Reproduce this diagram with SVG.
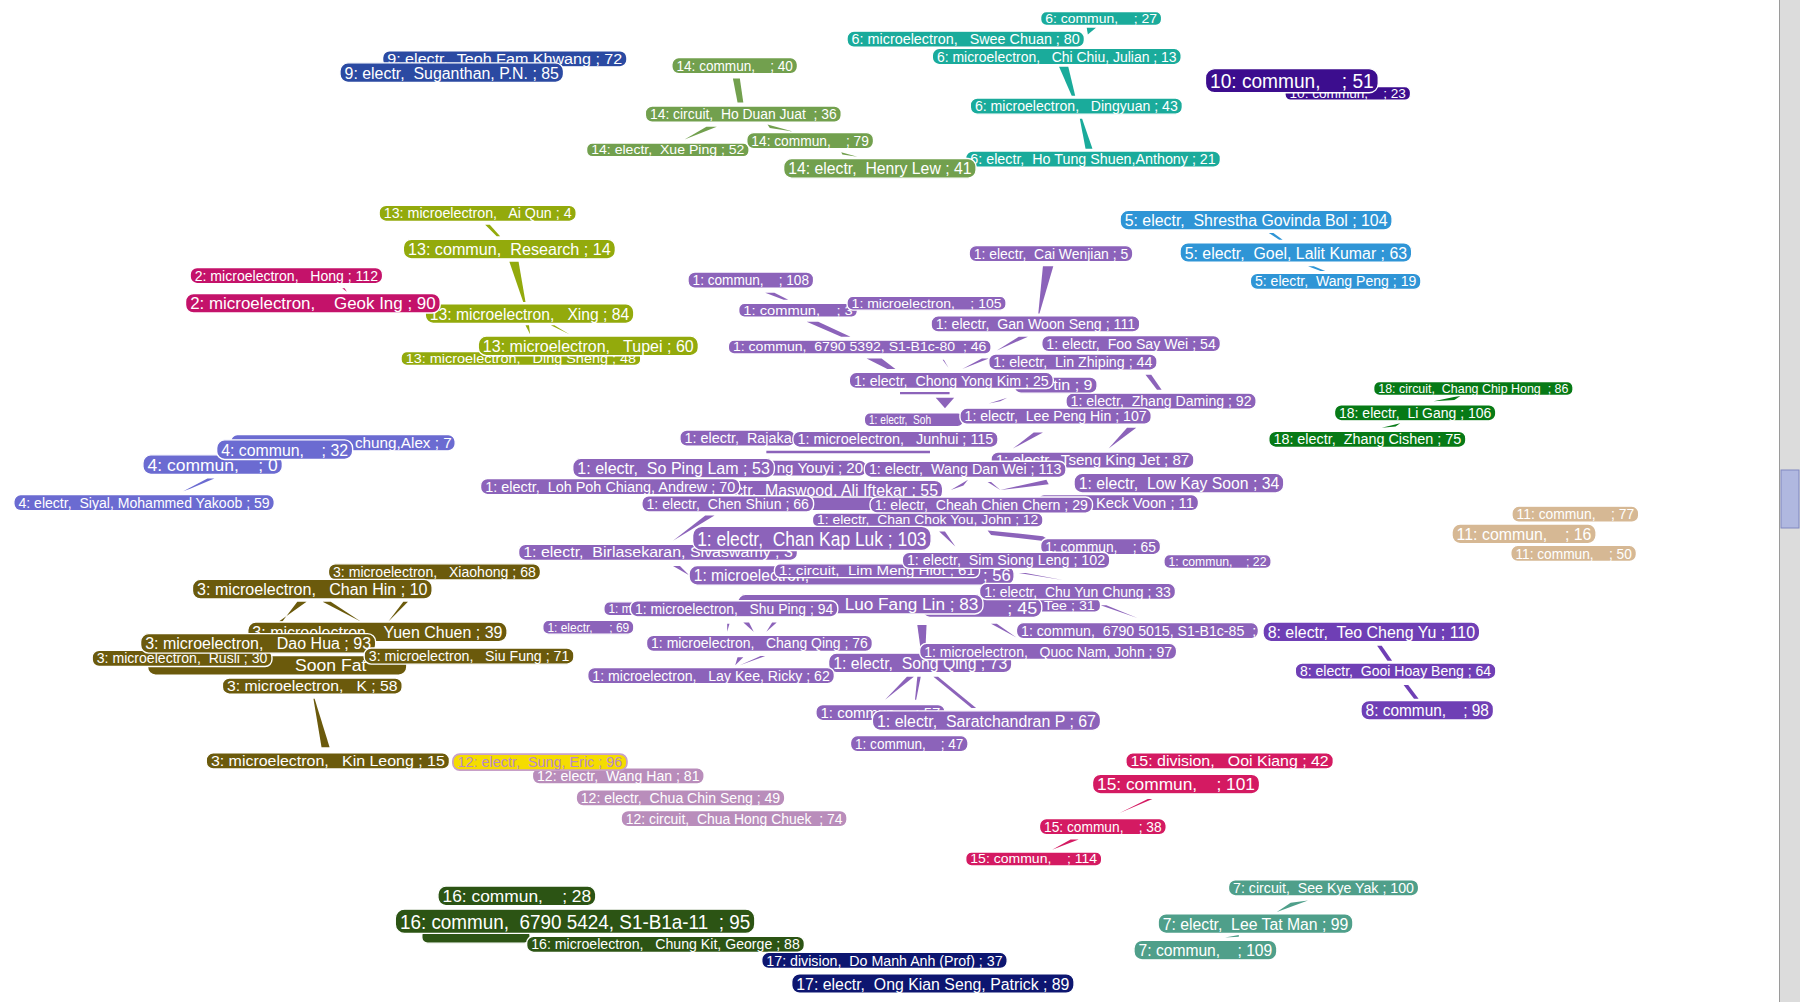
<svg xmlns="http://www.w3.org/2000/svg" width="1807" height="1002" viewBox="0 0 1807 1002">
<style>
text{font-family:"Liberation Sans",Arial,sans-serif;fill:#fff;white-space:pre}
.nd rect{stroke:#fff;stroke-width:1.2}
.s rect{rx:5px}.m rect{rx:6px}.l rect{rx:7px}.xl rect{rx:8px}
.s text{font-size:11px}.m text{font-size:12.6px}.l text{font-size:14.8px}.xl text{font-size:17.6px}
.c1 rect{fill:#8c63ba}.c1p{fill:#8c63ba}
.c2 rect{fill:#c4126a}.c2p{fill:#c4126a}
.c3 rect{fill:#6b5a0c}.c3p{fill:#6b5a0c}
.c4 rect{fill:#6b6bd1}.c4p{fill:#6b6bd1}
.c5 rect{fill:#2f95d6}.c5p{fill:#2f95d6}
.c6 rect{fill:#1aab9b}.c6p{fill:#1aab9b}
.c7 rect{fill:#4f9f8a}.c7p{fill:#4f9f8a}
.c8 rect{fill:#6f3fb5}.c8p{fill:#6f3fb5}
.c9 rect{fill:#2b4aa2}
.c10 rect{fill:#3c0d8e}
.c11 rect{fill:#d6b894}
.c12 rect{fill:#b98dbb}
.c13 rect{fill:#93aa0c}.c13p{fill:#93aa0c}
.c14 rect{fill:#72a04e}.c14p{fill:#72a04e}
.c15 rect{fill:#d41a62}.c15p{fill:#d41a62}
.c16 rect{fill:#2c5414}
.c17 rect{fill:#0d1670}
.c18 rect{fill:#077a16}.c18p{fill:#077a16}
.hl rect{fill:#f5dc00;stroke:#c8a0c8;stroke-width:1.5}.hl text{fill:#b98ac8}
</style>
<rect width="1807" height="1002" fill="#fff"/>
<g id="scrollbar">
<rect x="1779" y="0" width="21" height="1002" fill="#dcdcdc"/>
<line x1="1779.5" y1="0" x2="1779.5" y2="1002" stroke="#9a9a9a"/>
<rect x="1781" y="470" width="18" height="58" fill="#b0b8e0" stroke="#8088c0"/>
</g>
<g transform="scale(1.1524,1.153)">
<g id="connectors">
<polygon class="c6p" points="943,24 951,24 944,30"/>
<polygon class="c6p" points="919,58 927,58 933,83 930,83"/>
<polygon class="c6p" points="937,103 939,103 948,129 942,129"/>
<polygon class="c14p" points="636,68 642,68 645,89 640,89"/>
<polygon class="c14p" points="613,110 622,110 594,121"/>
<polygon class="c14p" points="666,108 668,111 688,114"/>
<polygon class="c14p" points="730,132 731,134 744,136"/>
<polygon class="c13p" points="421,195 425,195 434,205 431,205"/>
<polygon class="c13p" points="442,227 450,227 456,262 454,262"/>
<polygon class="c13p" points="456,282 459,282 460,290"/>
<polygon class="c13p" points="478,282 481,282 494,290"/>
<polygon class="c2p" points="297,250 299,250 301,253"/>
<polygon class="c5p" points="1101,202 1105,202 1113,208 1110,208"/>
<polygon class="c5p" points="1135,231 1140,231 1150,235 1146,235"/>
<polygon class="c18p" points="1244,348 1268,343 1262,347"/>
<polygon class="c18p" points="1199,371 1215,367 1211,370"/>
<polygon class="c4p" points="186,415 180,415 159,426 165,424"/>
<polygon class="c3p" points="258,522 266,522 242,539 245,539"/>
<polygon class="c3p" points="280,522 287,522 313,539"/>
<polygon class="c3p" points="350,522 354,522 337,539"/>
<polygon class="c3p" points="272,606 273,606 286,648 279,648"/>
<polygon class="c15p" points="996,693 1000,693 967,707 972,705"/>
<polygon class="c15p" points="929,728 936,728 913,737"/>
<polygon class="c7p" points="1135,781 1120,783 1108,791"/>
<polygon class="c7p" points="1063,813 1075,811 1075,812.5"/>
<polygon class="c8p" points="1195,560 1199,560 1208,573 1204,573"/>
<polygon class="c8p" points="1218,594 1222,594 1231,606 1227,606"/>
<polygon class="c1p" points="905,231 914,231 902,272 901,272"/>
<polygon class="c1p" points="664,254 672,254 684,260 680,260"/>
<polygon class="c1p" points="700,279 710,279 738,292 730,292"/>
<polygon class="c1p" points="752,311 765,311 777,320 770,320"/>
<polygon class="c1p" points="818,312 819,312 823,319"/>
<polygon class="c1p" points="884,292 892,292 865,304"/>
<polygon class="c1p" points="852,311 858,311 835,320"/>
<polygon class="c1p" points="994,325 999,325 1008,338 1004,338"/>
<polygon class="c1p" points="812,345 828,345 820,354"/>
<polygon class="c1p" points="858,350 874,345 868,348"/>
<polygon class="c1p" points="781,340 824,340 824,342 781,342"/>
<polygon class="c1p" points="978,371 986,371 962,389"/>
<polygon class="c1p" points="897,375 905,375 879,389"/>
<polygon class="c1p" points="665,391 807,391 807,393 665,393"/>
<polygon class="c1p" points="908,416 910,420 868,425"/>
<polygon class="c1p" points="857,418 860,418 868,425"/>
<polygon class="c1p" points="825,425 840,416 836,421"/>
<polygon class="c1p" points="612,447 620,447 584,469"/>
<polygon class="c1p" points="584,491 590,491 598,499"/>
<polygon class="c1p" points="857,460 860,464 913,470 905,465"/>
<polygon class="c1p" points="815,461 820,461 829,474"/>
<polygon class="c1p" points="884,497 890,497 922,503"/>
<polygon class="c1p" points="955,525 960,525 987,536"/>
<polygon class="c1p" points="860,541 865,541 882,553"/>
<polygon class="c1p" points="796,542 804,542 803,564 799,564"/>
<polygon class="c1p" points="631,541 633,541 631,548"/>
<polygon class="c1p" points="645,540 650,540 654,548"/>
<polygon class="c1p" points="670,540 674,540 665,548"/>
<polygon class="c1p" points="640,570 645,570 638,577"/>
<polygon class="c1p" points="660,569 664,569 642,577"/>
<polygon class="c1p" points="787,587 793,587 768,607"/>
<polygon class="c1p" points="796,587 799,587 795,607 794,607"/>
<polygon class="c1p" points="810,587 814,587 847,614 843,614"/>
</g>

<g id="n27" class="nd s c6"><rect x="903" y="10" width="105" height="12"/><text x="907" y="19.8" textLength="97" lengthAdjust="spacingAndGlyphs">6: commun,    ; 27</text></g>
<g id="n80" class="nd m c6"><rect x="735" y="27" width="206" height="14"/><text x="739" y="38.4" textLength="198" lengthAdjust="spacingAndGlyphs">6: microelectron,   Swee Chuan ; 80</text></g>
<g id="n13" class="nd m c6"><rect x="809" y="42" width="216" height="14"/><text x="813" y="53.4" textLength="208" lengthAdjust="spacingAndGlyphs">6: microelectron,   Chi Chiu, Julian ; 13</text></g>
<g id="n43" class="nd m c6"><rect x="842" y="85" width="184" height="14"/><text x="846" y="96.4" textLength="176" lengthAdjust="spacingAndGlyphs">6: microelectron,   Dingyuan ; 43</text></g>
<g id="n21" class="nd m c6"><rect x="838" y="131" width="221" height="14"/><text x="842" y="142.4" textLength="213" lengthAdjust="spacingAndGlyphs">6: electr,  Ho Tung Shuen,Anthony ; 21</text></g>

<g id="n40" class="nd m c14"><rect x="583" y="50" width="109" height="14"/><text x="587" y="61.4" textLength="101" lengthAdjust="spacingAndGlyphs">14: commun,    ; 40</text></g>
<g id="n36" class="nd m c14"><rect x="560" y="92" width="170" height="14"/><text x="564" y="103.4" textLength="162" lengthAdjust="spacingAndGlyphs">14: circuit,  Ho Duan Juat  ; 36</text></g>
<g id="n52" class="nd s c14"><rect x="509" y="124" width="141" height="12"/><text x="513" y="133.8" textLength="133" lengthAdjust="spacingAndGlyphs">14: electr,  Xue Ping ; 52</text></g>
<g id="n79" class="nd m c14"><rect x="648" y="115" width="110" height="14"/><text x="652" y="126.4" textLength="102" lengthAdjust="spacingAndGlyphs">14: commun,    ; 79</text></g>
<g id="n41" class="nd l c14"><rect x="680" y="137.5" width="167" height="17"/><text x="684" y="151.3" textLength="159" lengthAdjust="spacingAndGlyphs">14: electr,  Henry Lew ; 41</text></g>

<g id="n72" class="nd m c9"><rect x="332" y="44" width="212" height="14"/><text x="336" y="55.4" textLength="204" lengthAdjust="spacingAndGlyphs">9: electr,  Teoh Fam Khwang ; 72</text></g>
<g id="n85" class="nd l c9"><rect x="295" y="54.5" width="194" height="17"/><text x="299" y="68.3" textLength="186" lengthAdjust="spacingAndGlyphs">9: electr,  Suganthan, P.N. ; 85</text></g>

<g id="n23" class="nd s c10"><rect x="1115" y="75" width="109" height="12"/><text x="1119" y="84.8" textLength="101" lengthAdjust="spacingAndGlyphs">10: commun,    ; 23</text></g>
<g id="n51" class="nd xl c10"><rect x="1046" y="59.5" width="150" height="21"/><text x="1050" y="76.3" textLength="142" lengthAdjust="spacingAndGlyphs">10: commun,    ; 51</text></g>

<g id="n4" class="nd m c13"><rect x="329" y="178" width="171" height="14"/><text x="333" y="189.4" textLength="163" lengthAdjust="spacingAndGlyphs">13: microelectron,   Ai Qun ; 4</text></g>
<g id="n14" class="nd l c13"><rect x="350" y="207.5" width="184" height="17"/><text x="354" y="221.3" textLength="176" lengthAdjust="spacingAndGlyphs">13: commun,  Research ; 14</text></g>
<g id="n84" class="nd l c13"><rect x="369" y="263.5" width="181" height="17"/><text x="373" y="277.3" textLength="173" lengthAdjust="spacingAndGlyphs">13: microelectron,   Xing ; 84</text></g>
<g id="n48" class="nd s c13"><rect x="348" y="305" width="208" height="12"/><text x="352" y="314.8" textLength="200" lengthAdjust="spacingAndGlyphs">13: microelectron,   Ding Sheng ; 48</text></g>
<g id="n60" class="nd l c13"><rect x="415" y="291.5" width="191" height="17"/><text x="419" y="305.3" textLength="183" lengthAdjust="spacingAndGlyphs">13: microelectron,   Tupei ; 60</text></g>

<g id="n112" class="nd m c2"><rect x="165" y="232" width="167" height="14"/><text x="169" y="243.4" textLength="159" lengthAdjust="spacingAndGlyphs">2: microelectron,   Hong ; 112</text></g>
<g id="n90" class="nd l c2"><rect x="161" y="254.5" width="221" height="17"/><text x="165" y="268.3" textLength="213" lengthAdjust="spacingAndGlyphs">2: microelectron,    Geok Ing ; 90</text></g>

<g id="n104" class="nd l c5"><rect x="972" y="182.5" width="236" height="17"/><text x="976" y="196.3" textLength="228" lengthAdjust="spacingAndGlyphs">5: electr,  Shrestha Govinda Bol ; 104</text></g>
<g id="n63" class="nd l c5"><rect x="1024" y="210.5" width="201" height="17"/><text x="1028" y="224.3" textLength="193" lengthAdjust="spacingAndGlyphs">5: electr,  Goel, Lalit Kumar ; 63</text></g>
<g id="n19" class="nd m c5"><rect x="1085" y="237" width="148" height="14"/><text x="1089" y="248.4" textLength="140" lengthAdjust="spacingAndGlyphs">5: electr,  Wang Peng ; 19</text></g>

<g id="n86" class="nd s c18"><rect x="1192" y="331" width="173" height="12"/><text x="1196" y="340.8" textLength="165" lengthAdjust="spacingAndGlyphs">18: circuit,  Chang Chip Hong  ; 86</text></g>
<g id="n106" class="nd m c18"><rect x="1158" y="351" width="140" height="14"/><text x="1162" y="362.4" textLength="132" lengthAdjust="spacingAndGlyphs">18: electr,  Li Gang ; 106</text></g>
<g id="n75" class="nd m c18"><rect x="1101" y="374" width="171" height="14"/><text x="1105" y="385.4" textLength="163" lengthAdjust="spacingAndGlyphs">18: electr,  Zhang Cishen ; 75</text></g>

<g id="n77" class="nd m c11"><rect x="1312" y="439" width="110" height="14"/><text x="1316" y="450.4" textLength="102" lengthAdjust="spacingAndGlyphs">11: commun,    ; 77</text></g>
<g id="n16" class="nd l c11"><rect x="1260" y="454.5" width="125" height="17"/><text x="1264" y="468.3" textLength="117" lengthAdjust="spacingAndGlyphs">11: commun,    ; 16</text></g>
<g id="n50" class="nd m c11"><rect x="1311" y="473" width="109" height="14"/><text x="1315" y="484.4" textLength="101" lengthAdjust="spacingAndGlyphs">11: commun,    ; 50</text></g>

<g id="n7" class="nd m c4"><rect x="200" y="377" width="195" height="14"/><text x="308" y="388.4" textLength="84" lengthAdjust="spacingAndGlyphs">chung,Alex ; 7</text></g>
<g id="n0" class="nd l c4"><rect x="124" y="394.5" width="121" height="17"/><text x="128" y="408.3" textLength="113" lengthAdjust="spacingAndGlyphs">4: commun,    ; 0</text></g>
<g id="n32" class="nd l c4"><rect x="188" y="381.5" width="118" height="17"/><text x="192" y="395.3" textLength="110" lengthAdjust="spacingAndGlyphs">4: commun,    ; 32</text></g>
<g id="n59" class="nd m c4"><rect x="12" y="429" width="226" height="14"/><text x="16" y="440.4" textLength="218" lengthAdjust="spacingAndGlyphs">4: electr,  Siyal, Mohammed Yakoob ; 59</text></g>

<g id="n68" class="nd m c3"><rect x="285" y="489" width="184" height="14"/><text x="289" y="500.4" textLength="176" lengthAdjust="spacingAndGlyphs">3: microelectron,   Xiaohong ; 68</text></g>
<g id="n10" class="nd l c3"><rect x="167" y="502.5" width="208" height="17"/><text x="171" y="516.3" textLength="200" lengthAdjust="spacingAndGlyphs">3: microelectron,   Chan Hin ; 10</text></g>
<g id="n18" class="nd l c3"><rect x="128" y="568.5" width="225" height="17"/><text x="256" y="582.3" textLength="62" lengthAdjust="spacingAndGlyphs">Soon Fat</text></g>
<g id="n39" class="nd l c3"><rect x="215" y="539.5" width="225" height="17"/><text x="219" y="553.3" textLength="217" lengthAdjust="spacingAndGlyphs">3: microelectron,   Yuen Chuen ; 39</text></g>
<g id="n30" class="nd m c3"><rect x="80" y="564" width="156" height="14"/><text x="84" y="575.4" textLength="148" lengthAdjust="spacingAndGlyphs">3: microelectron,  Rusli ; 30</text></g>
<g id="n93" class="nd l c3"><rect x="122" y="549.5" width="204" height="17"/><text x="126" y="563.3" textLength="196" lengthAdjust="spacingAndGlyphs">3: microelectron,   Dao Hua ; 93</text></g>
<g id="n71" class="nd m c3"><rect x="316" y="562" width="182" height="14"/><text x="320" y="573.4" textLength="174" lengthAdjust="spacingAndGlyphs">3: microelectron,   Siu Fung ; 71</text></g>
<g id="n58" class="nd m c3"><rect x="193" y="588" width="156" height="14"/><text x="197" y="599.4" textLength="148" lengthAdjust="spacingAndGlyphs">3: microelectron,   K ; 58</text></g>
<g id="n15" class="nd m c3"><rect x="179" y="653" width="211" height="14"/><text x="183" y="664.4" textLength="203" lengthAdjust="spacingAndGlyphs">3: microelectron,   Kin Leong ; 15</text></g>

<g id="n81" class="nd m c12"><rect x="462" y="666" width="149" height="14"/><text x="466" y="677.4" textLength="141" lengthAdjust="spacingAndGlyphs">12: electr,  Wang Han ; 81</text></g>
<g id="n96" class="nd m hl"><rect x="393" y="654" width="151" height="14"/><text x="397" y="665.4" textLength="143" lengthAdjust="spacingAndGlyphs">12: electr,  Sung, Eric ; 96</text></g>
<g id="n49" class="nd m c12"><rect x="500" y="685" width="181" height="14"/><text x="504" y="696.4" textLength="173" lengthAdjust="spacingAndGlyphs">12: electr,  Chua Chin Seng ; 49</text></g>
<g id="n74" class="nd m c12"><rect x="539" y="703" width="196" height="14"/><text x="543" y="714.4" textLength="188" lengthAdjust="spacingAndGlyphs">12: circuit,  Chua Hong Chuek  ; 74</text></g>

<g id="n16h" class="nd s c16"><rect x="366" y="806" width="94" height="12"/></g>
<g id="n28" class="nd l c16"><rect x="380" y="768.5" width="137" height="17"/><text x="384" y="782.3" textLength="129" lengthAdjust="spacingAndGlyphs">16: commun,    ; 28</text></g>
<g id="n95" class="nd xl c16"><rect x="343" y="788.5" width="312" height="21"/><text x="347" y="805.3" textLength="304" lengthAdjust="spacingAndGlyphs">16: commun,  6790 5424, S1-B1a-11  ; 95</text></g>
<g id="n88" class="nd m c16"><rect x="457" y="812" width="241" height="14"/><text x="461" y="823.4" textLength="233" lengthAdjust="spacingAndGlyphs">16: microelectron,   Chung Kit, George ; 88</text></g>

<g id="n37" class="nd m c17"><rect x="661" y="826" width="213" height="14"/><text x="665" y="837.4" textLength="205" lengthAdjust="spacingAndGlyphs">17: division,  Do Manh Anh (Prof) ; 37</text></g>
<g id="n89" class="nd l c17"><rect x="687" y="844.5" width="245" height="17"/><text x="691" y="858.3" textLength="237" lengthAdjust="spacingAndGlyphs">17: electr,  Ong Kian Seng, Patrick ; 89</text></g>

<g id="n42" class="nd m c15"><rect x="977" y="653" width="180" height="14"/><text x="981" y="664.4" textLength="172" lengthAdjust="spacingAndGlyphs">15: division,   Ooi Kiang ; 42</text></g>
<g id="n101" class="nd l c15"><rect x="948" y="671.5" width="145" height="17"/><text x="952" y="685.3" textLength="137" lengthAdjust="spacingAndGlyphs">15: commun,    ; 101</text></g>
<g id="n38" class="nd m c15"><rect x="902" y="710" width="110" height="14"/><text x="906" y="721.4" textLength="102" lengthAdjust="spacingAndGlyphs">15: commun,    ; 38</text></g>
<g id="n114" class="nd s c15"><rect x="838" y="739" width="118" height="12"/><text x="842" y="748.8" textLength="110" lengthAdjust="spacingAndGlyphs">15: commun,    ; 114</text></g>

<g id="n100" class="nd m c7"><rect x="1066" y="763" width="165" height="14"/><text x="1070" y="774.4" textLength="157" lengthAdjust="spacingAndGlyphs">7: circuit,  See Kye Yak ; 100</text></g>
<g id="n99" class="nd l c7"><rect x="1005" y="792.5" width="169" height="17"/><text x="1009" y="806.3" textLength="161" lengthAdjust="spacingAndGlyphs">7: electr,  Lee Tat Man ; 99</text></g>
<g id="n109" class="nd l c7"><rect x="984" y="815.5" width="124" height="17"/><text x="988" y="829.3" textLength="116" lengthAdjust="spacingAndGlyphs">7: commun,    ; 109</text></g>

<g id="n110" class="nd l c8"><rect x="1096" y="539.5" width="188" height="17"/><text x="1100" y="553.3" textLength="180" lengthAdjust="spacingAndGlyphs">8: electr,  Teo Cheng Yu ; 110</text></g>
<g id="n64" class="nd m c8"><rect x="1124" y="575" width="174" height="14"/><text x="1128" y="586.4" textLength="166" lengthAdjust="spacingAndGlyphs">8: electr,  Gooi Hoay Beng ; 64</text></g>
<g id="n98" class="nd l c8"><rect x="1181" y="607.5" width="115" height="17"/><text x="1185" y="621.3" textLength="107" lengthAdjust="spacingAndGlyphs">8: commun,    ; 98</text></g>

<g id="n5" class="nd m c1"><rect x="841" y="213" width="142" height="14"/><text x="845" y="224.4" textLength="134" lengthAdjust="spacingAndGlyphs">1: electr,  Cai Wenjian ; 5</text></g>
<g id="n108" class="nd m c1"><rect x="597" y="236" width="109" height="14"/><text x="601" y="247.4" textLength="101" lengthAdjust="spacingAndGlyphs">1: commun,    ; 108</text></g>
<g id="n3x" class="nd s c1"><rect x="641" y="263" width="103" height="12"/><text x="645" y="272.8" textLength="95" lengthAdjust="spacingAndGlyphs">1: commun,    ; 3</text></g>
<g id="n105" class="nd s c1"><rect x="735" y="257" width="138" height="12"/><text x="739" y="266.8" textLength="130" lengthAdjust="spacingAndGlyphs">1: microelectron,    ; 105</text></g>
<g id="n111" class="nd m c1"><rect x="808" y="274" width="181" height="14"/><text x="812" y="285.4" textLength="173" lengthAdjust="spacingAndGlyphs">1: electr,  Gan Woon Seng ; 111</text></g>
<g id="n46" class="nd s c1"><rect x="632" y="295" width="228" height="12"/><text x="636" y="304.8" textLength="220" lengthAdjust="spacingAndGlyphs">1: commun,  6790 5392, S1-B1c-80  ; 46</text></g>
<g id="n54" class="nd m c1"><rect x="904" y="291" width="155" height="14"/><text x="908" y="302.4" textLength="147" lengthAdjust="spacingAndGlyphs">1: electr,  Foo Say Wei ; 54</text></g>
<g id="n44" class="nd m c1"><rect x="858" y="307" width="146" height="14"/><text x="862" y="318.4" textLength="138" lengthAdjust="spacingAndGlyphs">1: electr,  Lin Zhiping ; 44</text></g>
<g id="n92" class="nd m c1"><rect x="925" y="341" width="165" height="14"/><text x="929" y="352.4" textLength="157" lengthAdjust="spacingAndGlyphs">1: electr,  Zhang Daming ; 92</text></g>
<g id="n9" class="nd m c1"><rect x="880" y="327" width="72" height="14"/><text x="914" y="338.4" textLength="34" lengthAdjust="spacingAndGlyphs">tin ; 9</text></g>
<g id="n25" class="nd m c1"><rect x="737" y="323" width="177" height="14"/><text x="741" y="334.4" textLength="169" lengthAdjust="spacingAndGlyphs">1: electr,  Chong Yong Kim ; 25</text></g>
<g id="nsoh" class="nd s c1"><rect x="750" y="358" width="86" height="12"/><text x="754" y="367.8" textLength="54" lengthAdjust="spacingAndGlyphs">1: electr,  Soh</text></g>
<g id="n107" class="nd m c1"><rect x="833" y="354" width="166" height="14"/><text x="837" y="365.4" textLength="158" lengthAdjust="spacingAndGlyphs">1: electr,  Lee Peng Hin ; 107</text></g>
<g id="nraj" class="nd m c1"><rect x="590" y="373" width="100" height="14"/><text x="594" y="384.4" textLength="93" lengthAdjust="spacingAndGlyphs">1: electr,  Rajaka</text></g>
<g id="n115" class="nd m c1"><rect x="688" y="374" width="178" height="14"/><text x="692" y="385.4" textLength="170" lengthAdjust="spacingAndGlyphs">1: microelectron,   Junhui ; 115</text></g>
<g id="n87" class="nd m c1"><rect x="860" y="392" width="176" height="14"/><text x="864" y="403.4" textLength="168" lengthAdjust="spacingAndGlyphs">1: electr,  Tseng King Jet ; 87</text></g>
<g id="n20" class="nd m c1"><rect x="640" y="399" width="112" height="14"/><text x="674" y="410.4" textLength="75" lengthAdjust="spacingAndGlyphs">ng Youyi ; 20</text></g>
<g id="n53" class="nd l c1"><rect x="497" y="397.5" width="175" height="17"/><text x="501" y="411.3" textLength="167" lengthAdjust="spacingAndGlyphs">1: electr,  So Ping Lam ; 53</text></g>
<g id="n113" class="nd m c1"><rect x="750" y="400" width="175" height="14"/><text x="754" y="411.4" textLength="167" lengthAdjust="spacingAndGlyphs">1: electr,  Wang Dan Wei ; 113</text></g>
<g id="n34" class="nd l c1"><rect x="932" y="410.5" width="182" height="17"/><text x="936" y="424.3" textLength="174" lengthAdjust="spacingAndGlyphs">1: electr,  Low Kay Soon ; 34</text></g>
<g id="n55" class="nd l c1"><rect x="600" y="416.5" width="218" height="17"/><text x="604" y="430.3" textLength="210" lengthAdjust="spacingAndGlyphs">1: electr,  Maswood, Ali Iftekar ; 55</text></g>
<g id="n70" class="nd m c1"><rect x="417" y="415" width="225" height="14"/><text x="421" y="426.4" textLength="217" lengthAdjust="spacingAndGlyphs">1: electr,  Loh Poh Chiang, Andrew ; 70</text></g>
<g id="nshiu" class="nd s c1"><rect x="700" y="431" width="60" height="12"/></g>
<g id="n66" class="nd m c1"><rect x="557" y="430" width="149" height="14"/><text x="561" y="441.4" textLength="141" lengthAdjust="spacingAndGlyphs">1: electr,  Chen Shiun ; 66</text></g>
<g id="n11" class="nd m c1"><rect x="900" y="429" width="140" height="14"/><text x="951" y="440.4" textLength="85" lengthAdjust="spacingAndGlyphs">Keck Voon ; 11</text></g>
<g id="n29" class="nd m c1"><rect x="755" y="431" width="193" height="14"/><text x="759" y="442.4" textLength="185" lengthAdjust="spacingAndGlyphs">1: electr,  Cheah Chien Chern ; 29</text></g>
<g id="n12" class="nd s c1"><rect x="705" y="445" width="200" height="12"/><text x="709" y="454.8" textLength="192" lengthAdjust="spacingAndGlyphs">1: electr,  Chan Chok You, John ; 12</text></g>
<g id="n3b" class="nd m c1"><rect x="450" y="472" width="242" height="14"/><text x="454" y="483.4" textLength="234" lengthAdjust="spacingAndGlyphs">1: electr,  Birlasekaran, Sivaswamy ; 3</text></g>
<g id="n65" class="nd m c1"><rect x="903" y="467" width="104" height="14"/><text x="907" y="478.4" textLength="96" lengthAdjust="spacingAndGlyphs">1: commun,    ; 65</text></g>
<g id="n22" class="nd s c1"><rect x="1010" y="481" width="93" height="12"/><text x="1014" y="490.8" textLength="85" lengthAdjust="spacingAndGlyphs">1: commun,    ; 22</text></g>
<g id="n103" class="nd xl c1"><rect x="601" y="456.5" width="207" height="21"/><text x="605" y="473.3" textLength="199" lengthAdjust="spacingAndGlyphs">1: electr,  Chan Kap Luk ; 103</text></g>
<g id="n56" class="nd l c1"><rect x="598" y="490.5" width="282" height="17"/><text x="602" y="504.3" textLength="100" lengthAdjust="spacingAndGlyphs">1: microelectron,</text><text x="853" y="504.3" textLength="24" lengthAdjust="spacingAndGlyphs">; 56</text></g>
<g id="n61" class="nd s c1"><rect x="672" y="489" width="178" height="12"/><text x="676" y="498.8" textLength="170" lengthAdjust="spacingAndGlyphs">1: circuit,  Lim Meng Hiot ; 61</text></g>
<g id="n102" class="nd m c1"><rect x="783" y="479" width="180" height="14"/><text x="787" y="490.4" textLength="172" lengthAdjust="spacingAndGlyphs">1: electr,  Sim Siong Leng ; 102</text></g>
<g id="n31" class="nd s c1"><rect x="880" y="519" width="75" height="12"/><text x="906" y="528.8" textLength="44" lengthAdjust="spacingAndGlyphs">Tee ; 31</text></g>
<g id="n45" class="nd l c1"><rect x="800" y="518.5" width="104" height="17"/><text x="874" y="532.3" textLength="26" lengthAdjust="spacingAndGlyphs">; 45</text></g>
<g id="n33" class="nd m c1"><rect x="850" y="506" width="170" height="14"/><text x="854" y="517.4" textLength="162" lengthAdjust="spacingAndGlyphs">1: electr,  Chu Yun Chung ; 33</text></g>
<g id="n83" class="nd l c1"><rect x="640" y="515.5" width="213" height="17"/><text x="733" y="529.3" textLength="116" lengthAdjust="spacingAndGlyphs">Luo Fang Lin ; 83</text></g>
<g id="nm" class="nd s c1"><rect x="524" y="522" width="76" height="12"/><text x="528" y="531.8" textLength="20" lengthAdjust="spacingAndGlyphs">1: m</text></g>
<g id="n94" class="nd m c1"><rect x="547" y="521" width="180" height="14"/><text x="551" y="532.4" textLength="172" lengthAdjust="spacingAndGlyphs">1: microelectron,   Shu Ping ; 94</text></g>
<g id="n69" class="nd s c1"><rect x="471" y="538" width="79" height="12"/><text x="475" y="547.8" textLength="71" lengthAdjust="spacingAndGlyphs">1: electr,     ; 69</text></g>
<g id="n85c" class="nd m c1"><rect x="882" y="540" width="210" height="14"/><text x="886" y="551.4" textLength="204" lengthAdjust="spacingAndGlyphs">1: commun,  6790 5015, S1-B1c-85  ;</text></g>
<g id="n76" class="nd m c1"><rect x="561" y="551" width="196" height="14"/><text x="565" y="562.4" textLength="188" lengthAdjust="spacingAndGlyphs">1: microelectron,   Chang Qing ; 76</text></g>
<g id="n73" class="nd l c1"><rect x="719" y="566.5" width="159" height="17"/><text x="723" y="580.3" textLength="151" lengthAdjust="spacingAndGlyphs">1: electr,  Song Qing ; 73</text></g>
<g id="n97" class="nd m c1"><rect x="798" y="558" width="223" height="14"/><text x="802" y="569.4" textLength="215" lengthAdjust="spacingAndGlyphs">1: microelectron,   Quoc Nam, John ; 97</text></g>
<g id="n62" class="nd m c1"><rect x="510" y="579" width="214" height="14"/><text x="514" y="590.4" textLength="206" lengthAdjust="spacingAndGlyphs">1: microelectron,   Lay Kee, Ricky ; 62</text></g>
<g id="n57" class="nd m c1"><rect x="708" y="611" width="112" height="14"/><text x="712" y="622.4" textLength="104" lengthAdjust="spacingAndGlyphs">1: commun,    ; 57</text></g>
<g id="n67" class="nd l c1"><rect x="757" y="616.5" width="198" height="17"/><text x="761" y="630.3" textLength="190" lengthAdjust="spacingAndGlyphs">1: electr,  Saratchandran P ; 67</text></g>
<g id="n47" class="nd m c1"><rect x="738" y="638" width="102" height="14"/><text x="742" y="649.4" textLength="94" lengthAdjust="spacingAndGlyphs">1: commun,    ; 47</text></g>
</g>
</svg>
